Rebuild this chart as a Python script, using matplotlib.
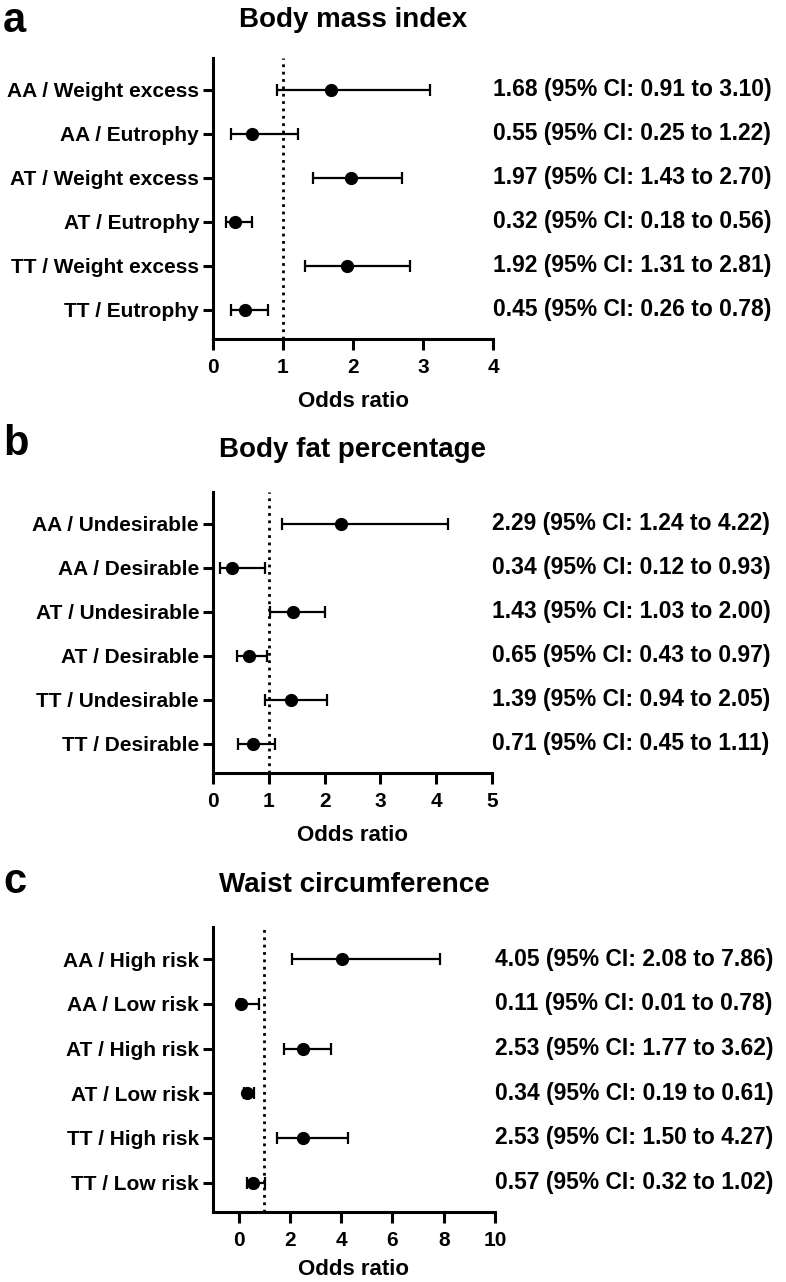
import matplotlib
matplotlib.use("Agg")
import matplotlib.pyplot as plt

# ---- data ----
bmi_labels = ["AA / Weight excess", "AA / Eutrophy", "AT / Weight excess",
              "AT / Eutrophy", "TT / Weight excess", "TT / Eutrophy"]
bmi_or = [1.68, 0.55, 1.97, 0.32, 1.92, 0.45]
bmi_lo = [0.91, 0.25, 1.43, 0.18, 1.31, 0.26]
bmi_hi = [3.10, 1.22, 2.70, 0.56, 2.81, 0.78]

fat_labels = ["AA / Undesirable", "AA / Desirable", "AT / Undesirable",
              "AT / Desirable", "TT / Undesirable", "TT / Desirable"]
fat_or = [2.29, 0.34, 1.43, 0.65, 1.39, 0.71]
fat_lo = [1.24, 0.12, 1.03, 0.43, 0.94, 0.45]
fat_hi = [4.22, 0.93, 2.00, 0.97, 2.05, 1.11]

waist_labels = ["AA / High risk", "AA / Low risk", "AT / High risk",
                "AT / Low risk", "TT / High risk", "TT / Low risk"]
waist_or = [4.05, 0.11, 2.53, 0.34, 2.53, 0.57]
waist_lo = [2.08, 0.01, 1.77, 0.19, 1.50, 0.32]
waist_hi = [7.86, 0.78, 3.62, 0.61, 4.27, 1.02]

plt.rcParams["font.family"] = ["Liberation Sans", "DejaVu Sans"]
plt.rcParams["font.weight"] = "bold"

W, H = 786, 1282
fig = plt.figure(figsize=(W / 100, H / 100), dpi=100)


def px_axes(left, right, top, bottom):
    return fig.add_axes([left / W, 1 - bottom / H, (right - left) / W, (bottom - top) / H])


def panel(ax, labels, ors, los, his, xlim, xticks, title, letter, title_y, letter_y, labelpad):
    ys = list(range(len(labels)))
    xerr = [[o - l for o, l in zip(ors, los)], [h - o for o, h in zip(ors, his)]]
    ax.axvline(1, color="black", linestyle=":", linewidth=2.0, zorder=1)
    ax.errorbar(ors, ys, xerr=xerr, fmt="o", color="black", markersize=8.5,
                elinewidth=1.6, capsize=4, capthick=1.6, zorder=3)
    ax.set_ylim(len(labels) - 1 + 0.66, -0.72)
    ax.set_xlim(*xlim)
    ax.set_xticks(xticks)
    ax.set_yticks(ys)
    ax.set_yticklabels(labels, fontsize=15, fontweight="bold")
    ax.set_xticklabels([str(t) for t in xticks], fontsize=15, fontweight="bold")
    for s in ("top", "right"):
        ax.spines[s].set_visible(False)
    for s in ("left", "bottom"):
        ax.spines[s].set_linewidth(2.2)
    ax.tick_params(axis="y", length=7, width=2.2, pad=3)
    ax.tick_params(axis="x", length=8, width=2.2, pad=6)
    ax.set_xlabel("Odds ratio", fontsize=16, fontweight="bold", labelpad=labelpad)
    for y, o, l, h in zip(ys, ors, los, his):
        ax.text(1.0, y, f"{o:.2f} (95% CI: {l:.2f} to {h:.2f})", transform=ax.get_yaxis_transform(),
                ha="left", va="center", fontsize=16.5, fontweight="bold", clip_on=False)
    bb = ax.get_position()
    fig.text((bb.x0 + bb.x1) / 2, 1 - title_y / H, title, ha="center", va="baseline",
             fontsize=20, fontweight="bold")
    fig.text(3 / W, 1 - letter_y / H, letter, ha="left", va="baseline",
             fontsize=30, fontweight="bold")


ax_a = px_axes(213, 493, 58, 339)
panel(ax_a, bmi_labels, bmi_or, bmi_lo, bmi_hi, (0, 4), [0, 1, 2, 3, 4],
      "Body mass index", "a", 27, 32, 10)

ax_b = px_axes(213, 492, 492, 773)
panel(ax_b, fat_labels, fat_or, fat_lo, fat_hi, (0, 5), [0, 1, 2, 3, 4, 5],
      "Body fat percentage", "b", 457, 455, 10)

ax_c = px_axes(213, 495, 927, 1212)
panel(ax_c, waist_labels, waist_or, waist_lo, waist_hi, (-1, 10), [0, 2, 4, 6, 8, 10],
      "Waist circumference", "c", 892, 893, 6)

fig.savefig("out.png", dpi=100)
